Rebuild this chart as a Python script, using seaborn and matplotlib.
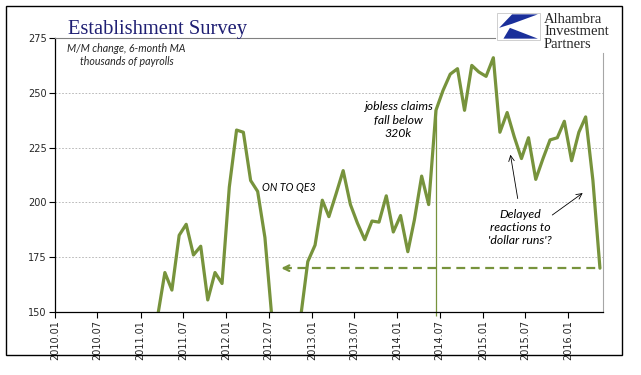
import seaborn as sns
import matplotlib.pyplot as plt
import matplotlib.dates as mdates
import matplotlib.patches as mpatches
import numpy as np
import pandas as pd

# Establishment survey, M/M change in payrolls, 6-month moving average (thousands)
months = pd.period_range('2011-03', '2016-05', freq='M')
payrolls_6m = [
    148, 168, 160, 185, 190, 176, 180, 155.5, 168, 163,                 # 2011.03-12
    207, 233, 232, 210, 205, 184, 147, np.nan, np.nan, np.nan, 148, 173,  # 2012
    180.5, 201, 193.5, 204, 214.5, 199, 190.5, 183, 191.5, 191, 203, 186.5,  # 2013
    194, 177.5, 192, 212, 199, 242, 251, 258.5, 261, 242, 262.5, 259.5,  # 2014
    257.5, 266, 232, 241, 230, 220, 229.5, 210.5, 220, 228.5, 229.5, 237,  # 2015
    219, 232, 239, 210, 170,                                             # 2016.01-05
]
tick_dates = pd.date_range('2010-01-01', '2016-01-01', freq='6MS')
tick_labels = [d.strftime('%Y.%m') for d in tick_dates]
y_ticks = [150, 175, 200, 225, 250, 275]
claims_month = '2014-06'     # jobless claims fall below 320k
last_level = 170

olive = '#77933c'

df = pd.DataFrame({'date': months.to_timestamp() + pd.Timedelta(days=14),
                   'value': payrolls_6m})
# split at the gap so the line breaks where values fall off the chart
df['seg'] = df['value'].isna().cumsum()
df = df.dropna()

sns.set_style('white')
fig = plt.figure(figsize=(6.41, 3.75), dpi=100)
ax = fig.add_axes([0.0858, 0.168, 0.8549, 0.7307])

for _, part in df.groupby('seg'):
    sns.lineplot(data=part, x='date', y='value', color=olive, lw=2.3, ax=ax)

ax.set_ylim(150, 275)
ax.set_xlim(pd.Timestamp('2010-01-01'), pd.Timestamp('2016-05-28'))
ax.set_xlabel('')
ax.set_ylabel('')
ax.set_yticks(y_ticks)
ax.set_yticklabels([str(v) for v in y_ticks], fontsize=7, family='DejaVu Sans')
ax.set_xticks(tick_dates)
ax.set_xticklabels(tick_labels, rotation=90, fontsize=7, family='DejaVu Sans')
ax.tick_params(axis='both', direction='out', length=4, width=0.8, color='black',
               bottom=True, left=True, pad=2)

for v in y_ticks[1:-1]:
    ax.axhline(v, color='#b0b0b0', lw=0.6, ls=(0, (2, 2)), zorder=0)

for side in ['left', 'bottom']:
    ax.spines[side].set_color('black')
    ax.spines[side].set_linewidth(0.9)
ax.spines['top'].set_color('#808080')
ax.spines['top'].set_linewidth(0.8)
ax.spines['top'].set_bounds(mdates.date2num(pd.Timestamp('2010-01-01')),
                            mdates.date2num(pd.Timestamp('2015-02-20')))
ax.spines['right'].set_color('#a6a6a6')
ax.spines['right'].set_linewidth(0.8)
ax.spines['right'].set_bounds(150, 268)

# vertical marker at the jobless claims month
claims = df.loc[df['date'].dt.strftime('%Y-%m') == claims_month]
ax.vlines(claims['date'], 148, claims['value'], color=olive, lw=0.9, clip_on=False)

# dashed return-to level arrow
start = pd.Timestamp('2012-08-12')
end = df['date'].iloc[-1]
ax.hlines(last_level, start + pd.Timedelta(days=20), end, color=olive, lw=1.6,
          ls=(0, (4, 2.5)))
ax.annotate('', xy=(start, last_level), xytext=(start + pd.Timedelta(days=45), last_level),
            arrowprops=dict(arrowstyle='->', color=olive, lw=1.6, mutation_scale=10))

ital = dict(style='italic', family=['Lato', 'DejaVu Sans'], color='black')
ax.text(pd.Timestamp('2012-09-25'), 207, 'ON TO QE3', ha='center', va='center',
        fontsize=7.6, **ital)
ax.text(pd.Timestamp('2014-01-05'), 237.5, 'jobless claims\nfall below\n320k',
        ha='center', va='center', linespacing=1.25, fontsize=8.8, **ital)
ax.text(pd.Timestamp('2015-06-10'), 188.5, "Delayed\nreactions to\n'dollar runs'?",
        ha='center', va='center', linespacing=1.25, fontsize=8.8, **ital)
ax.annotate('', xy=(pd.Timestamp('2015-04-27'), 223), xytext=(pd.Timestamp('2015-06-01'), 200.5),
            arrowprops=dict(arrowstyle='->', color='black', lw=0.6))
ax.annotate('', xy=(pd.Timestamp('2016-03-12'), 205), xytext=(pd.Timestamp('2015-10-15'), 193.5),
            arrowprops=dict(arrowstyle='->', color='black', lw=0.6))

# title block
fig.text(0.106, 0.909, 'Establishment Survey', fontsize=14.8, family='Liberation Serif',
         color='#1f1f73', va='baseline')
fig.text(0.104, 0.872, 'M/M change, 6-month MA', fontsize=7.7, style='italic',
         family=['Lato', 'DejaVu Sans'], va='center')
fig.text(0.125, 0.835, 'thousands of payrolls', fontsize=7.7, style='italic',
         family=['Lato', 'DejaVu Sans'], va='center')

# logo
lx0, ly0, lw_, lh_ = 497 / 641, 1 - 40 / 375, 43 / 641, 27 / 375
fig.patches.append(mpatches.Rectangle((lx0, ly0), lw_, lh_, transform=fig.transFigure,
                                      facecolor='white', edgecolor='#c8c8c8', lw=0.6))
blue = '#1a2f9a'
wedge_top = [(lx0 + lw_ * 0.95, ly0 + lh_ * 0.95), (lx0 + lw_ * 0.35, ly0 + lh_ * 0.95),
             (lx0 + lw_ * 0.05, ly0 + lh_ * 0.45), (lx0 + lw_ * 0.35, ly0 + lh_ * 0.6)]
wedge_bot = [(lx0 + lw_ * 0.3, ly0 + lh_ * 0.45), (lx0 + lw_ * 0.95, ly0 + lh_ * 0.05),
             (lx0 + lw_ * 0.15, ly0 + lh_ * 0.05)]
for pts in (wedge_top, wedge_bot):
    fig.patches.append(mpatches.Polygon(pts, closed=True, transform=fig.transFigure,
                                        facecolor=blue, edgecolor='none'))
fig.text(544 / 641, 1 - 13 / 375, 'Alhambra\nInvestment\nPartners', fontsize=10.5,
         family='Liberation Serif', va='top', ha='left', linespacing=0.93)

# outer frame
fig.patches.append(mpatches.Rectangle((6 / 641, 1 - 355 / 375), 616 / 641, 349 / 375,
                                      transform=fig.transFigure, fill=False,
                                      edgecolor='black', lw=1))

plt.savefig('out.png', dpi=100)
